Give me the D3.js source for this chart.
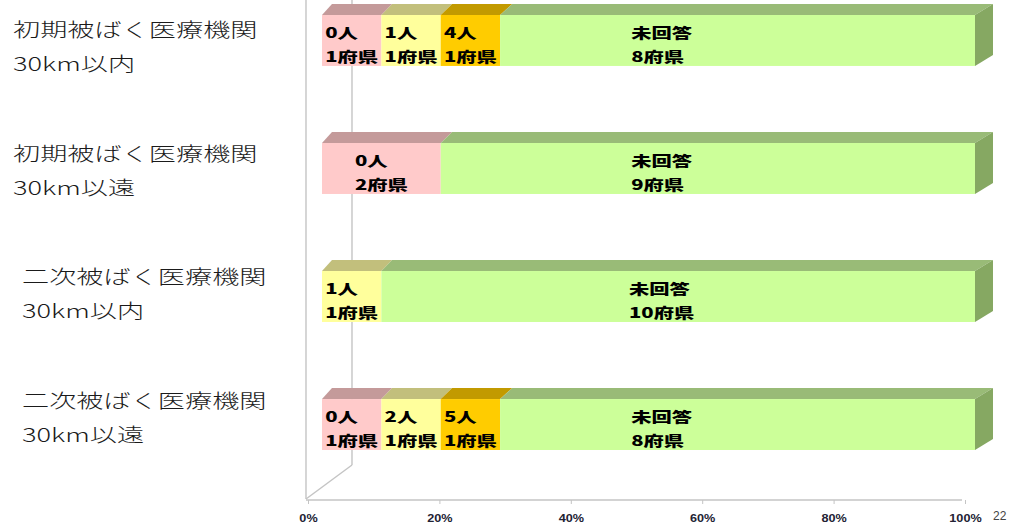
<!DOCTYPE html>
<html><head><meta charset="utf-8">
<script src="https://cdn.jsdelivr.net/npm/d3@7"></script>
<style>
html,body{margin:0;padding:0;background:#fff;}
svg{display:block;}
</style></head>
<body>
<svg id="c" width="1020" height="527"></svg>
<script>
// ---- data ----
const categories = [
  ["初期被ばく医療機関", "30km以内"],
  ["初期被ばく医療機関", "30km以遠"],
  ["二次被ばく医療機関", "30km以内"],
  ["二次被ばく医療機関", "30km以遠"]
];
const seriesNames = ["0人", "1人以上A", "1人以上B", "未回答"];
// prefecture counts per segment (series order above)
const prefCounts = [
  [1, 1, 1, 8],
  [2, 0, 0, 9],
  [0, 1, 0, 10],
  [1, 1, 1, 8]
];
// person label of each segment
const personLabels = [
  ["0人", "1人", "4人", "未回答"],
  ["0人", "", "", "未回答"],
  ["", "1人", "", "未回答"],
  ["0人", "2人", "5人", "未回答"]
];
const tickValues = [0, 0.2, 0.4, 0.6, 0.8, 1.0];
const tickLabels = ["0%", "20%", "40%", "60%", "80%", "100%"];

const frontColors = ["#ffcaca", "#ffff9c", "#ffcc00", "#ccff99"];
const topColors   = ["#c49a9a", "#c2bf7c", "#c29a00", "#99bb77"];
const sideColor = "#86a862";

const svg = d3.select("#c");
const SX = 1.45; // horizontal stretch of text

const xF = d3.scaleLinear().domain([0, 1]).range([322, 975]);
const xB = d3.scaleLinear().domain([0, 1]).range([332, 993]);
const xT = d3.scaleLinear().domain([0, 1]).range([308, 965]);
const y = d3.scaleBand().domain(d3.range(categories.length)).range([15, 450]).paddingInner(0.602).paddingOuter(0);
const yLab = d3.scalePoint().domain(d3.range(categories.length)).range([37, 408]);
const DY = -11;

// ---- walls / floor ----
const grid = svg.append("g").attr("stroke", "#c4c4c4").attr("stroke-width", 1.4).attr("fill", "none");
grid.append("line").attr("x1", 306).attr("y1", 0).attr("x2", 306).attr("y2", 499);
grid.append("line").attr("x1", 352).attr("y1", 0).attr("x2", 352).attr("y2", 465);
grid.append("line").attr("x1", 352).attr("y1", 465).attr("x2", 306).attr("y2", 499);
grid.append("line").attr("x1", 306).attr("y1", 500).attr("x2", xT(1) - 3).attr("y2", 500);

// axis
const axis = d3.axisBottom(xT).tickValues(tickValues).tickSize(4).tickFormat((d, i) => tickLabels[i]);
const ag = svg.append("g").attr("transform", "translate(0,500)").call(axis);
ag.select(".domain").remove();
ag.selectAll(".tick line").attr("stroke", "#c4c4c4");
ag.selectAll(".tick text")
  .attr("font-family", "Liberation Sans, Arial, sans-serif")
  .attr("font-size", 11.5).attr("font-weight", "bold").attr("fill", "#223")
  .attr("y", 0).attr("dy", 0)
  .attr("transform", `translate(0,22) scale(1.1,1)`);

// ---- bars ----
categories.forEach((cat, i) => {
  const total = d3.sum(prefCounts[i]);
  const top = y(i), h = y.bandwidth();
  let acc = 0;
  const segs = prefCounts[i].map((c, j) => {
    const s = { j, a: acc / total, b: (acc + c) / total, c };
    acc += c; return s;
  }).filter(s => s.c > 0);
  const g = svg.append("g");
  // top faces
  g.selectAll("polygon.top").data(segs).join("polygon")
    .attr("points", s => [[xF(s.a), top], [xF(s.b), top], [xB(s.b), top + DY], [xB(s.a), top + DY]].join(" "))
    .attr("fill", s => topColors[s.j]);
  // front faces
  g.selectAll("rect.front").data(segs).join("rect")
    .attr("x", s => xF(s.a)).attr("y", top)
    .attr("width", s => xF(s.b) - xF(s.a)).attr("height", h)
    .attr("fill", s => frontColors[s.j]);
  // side face
  g.append("polygon")
    .attr("points", [[xF(1), top], [xB(1), top + DY], [xB(1), top + h + DY], [xF(1), top + h]].join(" "))
    .attr("fill", sideColor);

  // labels
  segs.forEach(s => {
    const last = s.j === seriesNames.length - 1;
    const cx = last ? xF(0.52) : xF((s.a + s.b) / 2);
    const lg = g.append("g").attr("transform", `translate(${cx},${top}) scale(${SX},1)`);
    const lines = [personLabels[i][s.j], s.c + "府県"];
    const ts = lines.map((t, k) => lg.append("text")
      .attr("y", k === 0 ? 23 : 47)
      .attr("font-family", "Noto Sans CJK JP, sans-serif")
      .attr("font-size", 14).attr("font-weight", 900).attr("fill", "#000")
      .text(t));
    const w = d3.max(ts, t => t.node().getComputedTextLength());
    ts.forEach(t => t.attr("x", -w / 2));
  });
});

// ---- category labels ----
categories.forEach((cat, i) => {
  const x0 = i < 2 ? 13 : 22;
  cat.forEach((t, k) => {
    svg.append("text")
      .attr("transform", `translate(${x0},${yLab(i) + k * 34}) scale(1.43,1)`)
      .attr("font-family", "Noto Sans CJK JP, sans-serif")
      .attr("font-size", 19).attr("font-weight", 300).attr("fill", "#1a1a1a")
      .text(t);
  });
});

// page number fragment at bottom right
svg.append("text").attr("x", 993).attr("y", 520)
  .attr("font-family", "Liberation Sans, Arial, sans-serif")
  .attr("font-size", 12).attr("fill", "#444").text("22");
</script>
</body></html>
